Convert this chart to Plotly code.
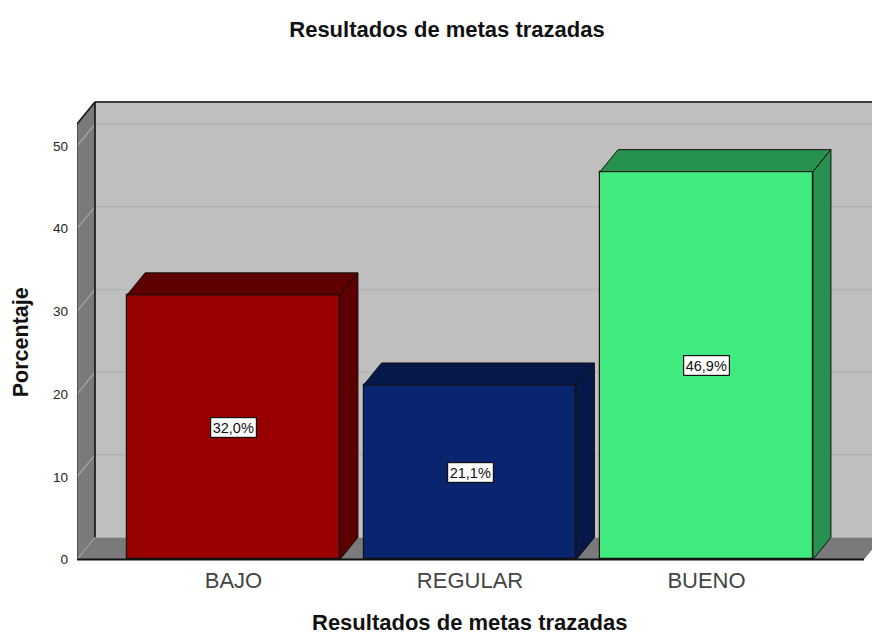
import plotly.graph_objects as go

categories = ["BAJO", "REGULAR", "BUENO"]
values = [32.0, 21.1, 46.9]
value_labels = ["32,0%", "21,1%", "46,9%"]
front_colors = ["#990000", "#0a2570", "#41ea7e"]
side_colors = ["#5e0000", "#06174a", "#27924f"]
y_ticks = [0, 10, 20, 30, 40, 50]

BAR_W = 0.9
DX = 18 / 236.5
DY = 22 / 8.26
X_MIN = (77 - 233.5) / 236.5
X_MAX = (872 - 233.5) / 236.5
X_FRONT_R = (864 - 233.5) / 236.5
Y_FRONT_TOP = (559 - 124) / 8.26
EDGE = "#111111"
FONT = "Liberation Sans"

shapes = []


def poly(xs, ys, fill):
    path = "M " + " L ".join(f"{x},{y}" for x, y in zip(xs, ys)) + " Z"
    shapes.append(dict(type="path", path=path, xref="x", yref="y", layer="below",
                       fillcolor=fill, line=dict(width=0)))


def seg(x0, y0, x1, y1, color, width):
    shapes.append(dict(type="line", x0=x0, y0=y0, x1=x1, y1=y1, xref="x", yref="y",
                       layer="below", line=dict(color=color, width=width)))


# back wall, left wall, floor
poly([X_MIN + DX, X_MAX + DX, X_MAX + DX, X_MIN + DX], [DY, DY, Y_FRONT_TOP + DY, Y_FRONT_TOP + DY], "#bfbfbf")
poly([X_MIN, X_MIN + DX, X_MIN + DX, X_MIN], [0, DY, Y_FRONT_TOP + DY, Y_FRONT_TOP], "#7a7a7a")
poly([X_MIN, X_FRONT_R, X_FRONT_R + DX, X_MIN + DX], [0, 0, DY, DY], "#7a7a7a")

# gridlines
for t in y_ticks[1:] + [Y_FRONT_TOP]:
    seg(X_MIN + DX, t + DY, X_MAX + DX, t + DY, "#b3b3b3", 1.5)
    seg(X_MIN, t, X_MIN + DX, t + DY, "#a8a8a8", 1.2)

# frame
seg(X_MIN + DX, DY, X_MIN + DX, Y_FRONT_TOP + DY, EDGE, 1.6)
seg(X_MIN + DX, Y_FRONT_TOP + DY, X_MAX + DX, Y_FRONT_TOP + DY, EDGE, 1.6)
seg(X_MIN, Y_FRONT_TOP, X_MIN + DX, Y_FRONT_TOP + DY, EDGE, 1.6)
seg(X_MIN, 0, X_MIN, Y_FRONT_TOP, "#333333", 1.2)
seg(X_MIN, 0, X_MIN + DX, DY, "#a8a8a8", 1.0)

fig = go.Figure()

fig.add_trace(go.Bar(
    x=list(range(len(categories))), y=values, width=BAR_W,
    marker=dict(color=front_colors, line=dict(color=EDGE, width=1.2)),
    showlegend=False, hoverinfo="skip",
))

for i, v in enumerate(values):
    l, r = i - BAR_W / 2, i + BAR_W / 2
    fig.add_trace(go.Scatter(
        x=[l, r, r + DX, l + DX, l], y=[v, v, v + DY, v + DY, v],
        mode="lines", fill="toself", fillcolor=side_colors[i],
        line=dict(color=EDGE, width=1.0), showlegend=False, hoverinfo="skip",
    ))
    fig.add_trace(go.Scatter(
        x=[r, r + DX, r + DX, r, r], y=[0, DY, v + DY, v, 0],
        mode="lines", fill="toself", fillcolor=side_colors[i],
        line=dict(color=EDGE, width=1.0), showlegend=False, hoverinfo="skip",
    ))

fig.add_trace(go.Scatter(
    x=[X_MIN, X_FRONT_R], y=[0, 0], mode="lines",
    line=dict(color="#111111", width=2), showlegend=False, hoverinfo="skip",
))

annotations = [
    dict(x=i, y=v / 2, xref="x", yref="y", text=lab, showarrow=False,
         font=dict(family=FONT, size=14.5, color="#111111"),
         bgcolor="white", bordercolor="#111111", borderwidth=1.2, borderpad=1.5)
    for i, (v, lab) in enumerate(zip(values, value_labels))
]
annotations.append(dict(
    x=(21 - 77) / 795, y=(575.52 - 342) / 485.52, xref="paper", yref="paper",
    xanchor="center", yanchor="middle", textangle=-90, showarrow=False,
    text="<b>Porcentaje</b>", font=dict(family=FONT, size=21.5, color="#111111"),
))
annotations.append(dict(
    x=(469.5 - 77) / 795, y=(575.52 - 622) / 485.52, xref="paper", yref="paper",
    xanchor="center", yanchor="middle", showarrow=False,
    text="<b>Resultados de metas trazadas</b>", font=dict(family=FONT, size=22, color="#111111"),
))

fig.update_layout(
    width=872, height=635,
    margin=dict(l=77, r=0, t=90, b=59.48, autoexpand=False),
    paper_bgcolor="white", plot_bgcolor="white",
    shapes=shapes, annotations=annotations, showlegend=False,
    bargap=0,
    title=dict(text="<b>Resultados de metas trazadas</b>", x=447 / 872, xanchor="center",
               y=1 - 29 / 635, yanchor="middle",
               font=dict(family=FONT, size=22, color="#111111")),
    xaxis=dict(
        range=[X_MIN, X_MAX], tickvals=list(range(len(categories))), ticktext=categories,
        showgrid=False, zeroline=False, showline=False, ticks="",
        tickfont=dict(family=FONT, size=22, color="#444444"), ticklabelstandoff=-11,
    ),
    yaxis=dict(
        range=[-2, (559 - 90) / 8.26], tickvals=y_ticks, ticktext=[str(t) for t in y_ticks],
        showgrid=False, zeroline=False, showline=False, ticks="",
        tickfont=dict(family=FONT, size=13.5, color="#222222"), ticklabelstandoff=8,
    ),
)

fig.write_html("out.html", post_script="document.body.style.margin='0';",
               config={"displayModeBar": False})
